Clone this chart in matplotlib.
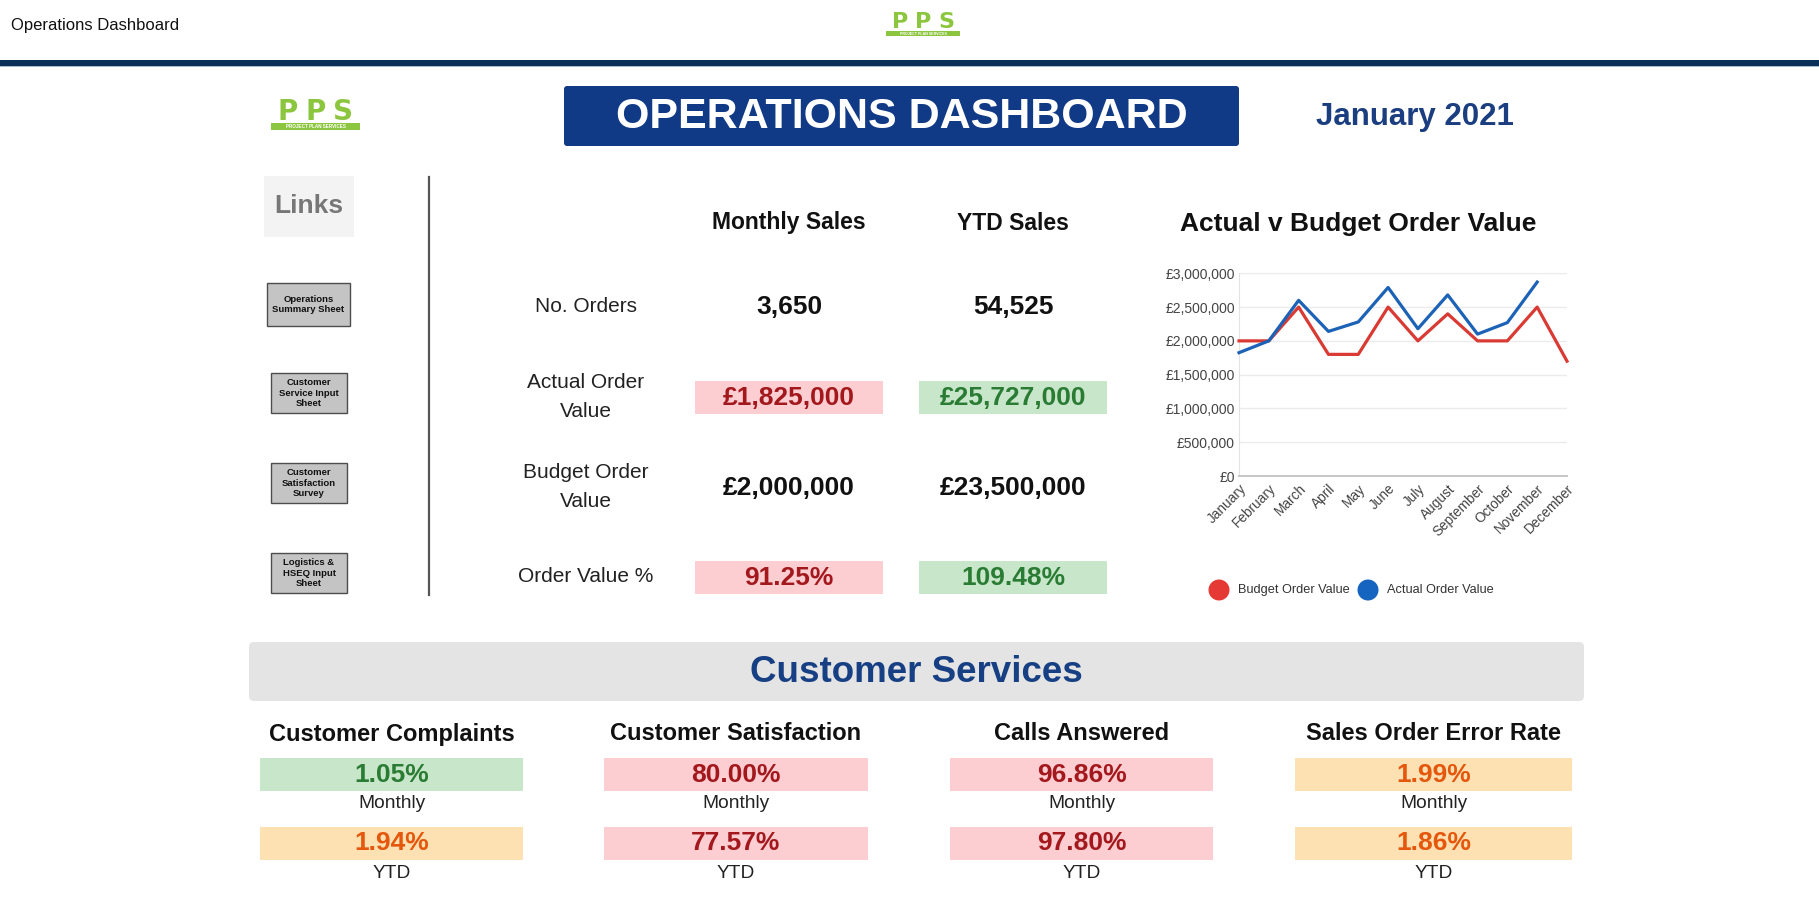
import matplotlib
matplotlib.use('Agg')
import matplotlib.pyplot as plt
from matplotlib.patches import Rectangle, FancyBboxPatch, Circle
from matplotlib.ticker import FuncFormatter, MultipleLocator
from matplotlib import font_manager

# ---------------- data ----------------
months = ['January', 'February', 'March', 'April', 'May', 'June', 'July',
          'August', 'September', 'October', 'November', 'December']
budget_order_value = [2000000, 2000000, 2500000, 1800000, 1800000, 2500000,
                      2000000, 2400000, 2000000, 2000000, 2500000, 1700000]
actual_order_value = [1825000, 2000000, 2600000, 2140000, 2280000, 2790000,
                      2180000, 2680000, 2100000, 2270000, 2870000]

kpi_columns = ['Monthly Sales', 'YTD Sales']
kpi_rows = ['No. Orders', 'Actual Order\nValue', 'Budget Order\nValue', 'Order Value %']
kpi_monthly = ['3,650', '£1,825,000', '£2,000,000', '91.25%']
kpi_ytd = ['54,525', '£25,727,000', '£23,500,000', '109.48%']
kpi_monthly_status = [None, 'bad', None, 'bad']
kpi_ytd_status = [None, 'good', None, 'good']

link_labels = ['Operations\nSummary Sheet', 'Customer\nService Input\nSheet',
               'Customer\nSatisfaction\nSurvey', 'Logistics &\nHSEQ Input\nSheet']

cs_titles = ['Customer Complaints', 'Customer Satisfaction', 'Calls Answered',
             'Sales Order Error Rate']
cs_monthly = ['1.05%', '80.00%', '96.86%', '1.99%']
cs_ytd = ['1.94%', '77.57%', '97.80%', '1.86%']
cs_monthly_status = ['good', 'bad', 'bad', 'warn']
cs_ytd_status = ['warn', 'bad', 'bad', 'warn']

# ---------------- styles ----------------
W, H, DPI = 1819, 901, 100
plt.rcParams['font.family'] = ['Liberation Sans', 'DejaVu Sans']

def has_font(name):
    try:
        font_manager.findfont(font_manager.FontProperties(family=name),
                              fallback_to_default=False)
        return True
    except Exception:
        return False

NARROW_OK = has_font('Liberation Sans Narrow')
NARROW = ['Liberation Sans Narrow', 'Liberation Sans'] if NARROW_OK else ['Liberation Sans']
cs_val_size = 22 if NARROW_OK else 19
cs_sub_size = 15.5 if NARROW_OK else 13.8

STATUS = {
    'good': ('#c8e6c9', '#2a7b33'),
    'bad': ('#fccdd1', '#a3181d'),
    'warn': ('#fde1b3', '#e4570c'),
}
NAVY = '#113a86'
GREEN_LOGO = '#8cc63e'

fig = plt.figure(figsize=(W / DPI, H / DPI), dpi=DPI)
fig.patch.set_facecolor('white')
bg = fig.add_axes([0, 0, 1, 1])
bg.set_xlim(0, W)
bg.set_ylim(H, 0)
bg.axis('off')

# ---------------- header ----------------
bg.text(11, 25.5, 'Operations Dashboard', fontsize=12, color='#111111',
        ha='left', va='center')
bg.add_patch(Rectangle((0, 59.5), W, 6, color='#0b3057', lw=0))
bg.add_patch(Rectangle((0, 65.5), W, 1.2, color='#a9bccf', lw=0))


def logo(x0, x1, y0, y1, size, tiny):
    h = y1 - y0
    band_top = y0 + h * 0.74
    xs = [x0 + (x1 - x0) * f for f in (0.19, 0.5, 0.81)]
    for x, ch in zip(xs, 'PPS'):
        bg.text(x, (y0 + band_top) / 2 + 0.5, ch, fontsize=size, fontweight='bold',
                color=GREEN_LOGO, ha='center', va='center', family=['DejaVu Sans'])
    bg.add_patch(Rectangle((x0, band_top + 1), x1 - x0, h - (band_top - y0) - 1,
                           color=GREEN_LOGO, lw=0))
    bg.text((x0 + x1) / 2, band_top + 1 + (h - (band_top - y0) - 1) / 2,
            'PROJECT PLAN SERVICES', fontsize=tiny, color='white',
            ha='center', va='center', fontweight='bold')

logo(886, 960, 13, 36, 16, 2.6)
logo(271, 360, 101, 130, 20, 3.3)

# title box
bg.add_patch(FancyBboxPatch((564, 86), 675, 60, boxstyle='round,pad=0,rounding_size=3',
                            fc=NAVY, ec='none'))
bg.text(901.5, 117, 'OPERATIONS DASHBOARD', fontsize=31, fontweight='bold',
        color='white', ha='center', va='center')
bg.text(1415, 117, 'January 2021', fontsize=22.5, fontweight='bold',
        color='#1b3e80', ha='center', va='center')

# ---------------- links ----------------
bg.add_patch(Rectangle((264, 176), 90, 61, fc='#f3f3f3', ec='none'))
bg.text(309, 206, 'Links', fontsize=19, fontweight='bold', color='#777777',
        ha='center', va='center')
btn_boxes = [(267, 283, 83, 43), (271, 373, 76, 40), (271, 463, 76, 40), (271, 553, 76, 40)]
for (bx, by, bw, bh), lab in zip(btn_boxes, link_labels):
    bg.add_patch(Rectangle((bx, by), bw, bh, fc='#c4c4c4', ec='#4d4d4d', lw=1))
    bg.text(bx + bw / 2, by + bh / 2, lab, fontsize=6.8, fontweight='bold',
            color='#111111', ha='center', va='center', linespacing=1.25)
bg.plot([429, 429], [177, 595], color='#555555', lw=1.6)

# ---------------- KPI table ----------------
col_x = [789, 1013]
row_y = [306, 397, 487, 577]
for cx, name in zip(col_x, kpi_columns):
    bg.text(cx, 223, name, fontsize=16.5, fontweight='bold', color='#111111',
            ha='center', va='center')
for ry, lab in zip(row_y, kpi_rows):
    bg.text(586, ry, lab, fontsize=15, color='#222222', ha='center', va='center',
            linespacing=1.65)
for cx, vals, stats in ((col_x[0], kpi_monthly, kpi_monthly_status),
                        (col_x[1], kpi_ytd, kpi_ytd_status)):
    for ry, v, st in zip(row_y, vals, stats):
        tc = '#111111'
        if st:
            fc, tc = STATUS[st]
            bg.add_patch(Rectangle((cx - 94, ry - 16), 188, 32.5, fc=fc, ec='none'))
        bg.text(cx, ry + 1, v, fontsize=19, fontweight='bold', color=tc,
                ha='center', va='center')

# ---------------- chart ----------------
bg.text(1358, 224, 'Actual v Budget Order Value', fontsize=19, fontweight='bold',
        color='#111111', ha='center', va='center')
ax = fig.add_axes([1239 / W, 1 - 476 / H, 328 / W, (476 - 273.3) / H])
xs = list(range(len(months)))
ax.plot(xs, budget_order_value, color='#d93b34', lw=2.3, clip_on=False, zorder=3)
ax.plot(xs[:len(actual_order_value)], actual_order_value, color='#1c62b6', lw=2.3,
        clip_on=False, zorder=4)
ax.set_xlim(0, len(months) - 1)
ax.set_ylim(0, 3000000)
ax.yaxis.set_major_locator(MultipleLocator(500000))
ax.yaxis.set_major_formatter(FuncFormatter(lambda v, p: '£{:,.0f}'.format(v)))
ax.grid(axis='y', color='#ebebeb', lw=1)
ax.set_axisbelow(True)
for s in ('top', 'right'):
    ax.spines[s].set_visible(False)
ax.spines['left'].set_color('#e3e3e3')
ax.spines['bottom'].set_color('#c6c6c6')
ax.spines['bottom'].set_linewidth(1.4)
ax.tick_params(axis='y', length=0, pad=3, labelsize=10, labelcolor='#444444')
ax.tick_params(axis='x', length=0, pad=4)
ax.set_xticks(xs)
ax.set_xticklabels(months, rotation=45, ha='right', rotation_mode='anchor',
                   fontsize=9.8, color='#444444')
ax.patch.set_alpha(0)

# legend
bg.add_patch(Circle((1219, 590), 10.5, color='#e53935', lw=0))
bg.text(1238, 590, 'Budget Order Value', fontsize=9.2, color='#333333',
        ha='left', va='center')
bg.add_patch(Circle((1368, 590), 10.5, color='#1565c0', lw=0))
bg.text(1387, 590, 'Actual Order Value', fontsize=9.2, color='#333333',
        ha='left', va='center')

# ---------------- customer services ----------------
bg.add_patch(FancyBboxPatch((249, 642), 1335, 59, boxstyle='round,pad=0,rounding_size=5',
                            fc='#e4e4e4', ec='none'))
bg.text(916, 672, 'Customer Services', fontsize=26.5, fontweight='bold',
        color='#173f84', ha='center', va='center')

group_boxes = [(260, 263), (604, 264), (950, 263), (1295, 277)]
for (gx, gw), title, mv, yv, ms, ys in zip(group_boxes, cs_titles, cs_monthly, cs_ytd,
                                           cs_monthly_status, cs_ytd_status):
    cx = gx + gw / 2
    bg.text(cx, 734, title, fontsize=17, fontweight='bold', color='#111111',
            ha='center', va='center')
    for (y0, val, st, sub, sy) in ((757.5, mv, ms, 'Monthly', 804),
                                   (826.5, yv, ys, 'YTD', 874)):
        fc, tc = STATUS[st]
        bg.add_patch(Rectangle((gx, y0), gw, 33, fc=fc, ec='none'))
        bg.text(cx, y0 + 17, val, fontsize=cs_val_size, fontweight='bold', color=tc,
                ha='center', va='center', family=NARROW)
        bg.text(cx, sy, sub, fontsize=cs_sub_size, color='#222222', ha='center',
                va='center', family=NARROW)

fig.savefig('out.png', dpi=DPI, facecolor='white')
